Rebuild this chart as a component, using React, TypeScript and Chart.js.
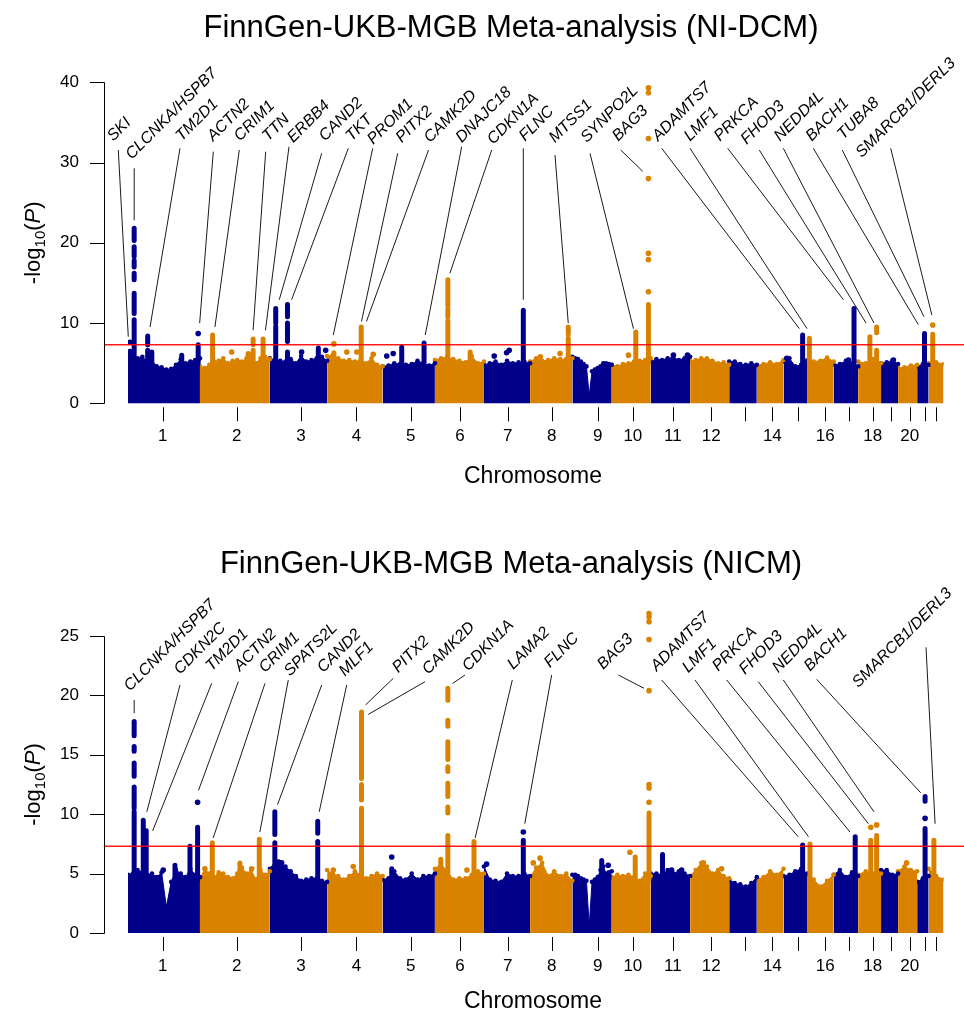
import React, { useEffect, useRef } from 'react';
import { Chart, registerables } from 'chart.js';

Chart.register(...registerables);

// ---------- genome layout (plotted span of each autosome, Mb) ----------
const CHROM_SPAN_MB = [245, 238, 195, 189, 178, 167, 157, 144, 134, 133, 134, 133, 94, 91, 80, 91, 83, 78, 58, 65, 39, 51];
// axis tick position inside each chromosome (centre of the SNPs, Mb)
const CHROM_TICK_MB = [118, 125, 106, 100, 96, 85, 81, 74, 86, 72, 75, 72, 54, 53, 49, 62, 51, 50, 35, 40, 26, 26];
const CHROM_TICK_LABELS = ['1', '2', '3', '4', '5', '6', '7', '8', '9', '10', '11', '12', '', '14', '', '16', '', '18', '', '20', '', ''];

const GENOME_WIDE = 7.30103; // -log10(5e-8)

// ---------- NI-DCM meta-analysis ----------
// upper edge of the bulk of SNPs along each chromosome (-log10 P)
const DCM_ENVELOPE = [
  [5.8, 6.0, 5.6, 5.8, 5.2, 5.4, 4.6, 4.5, 4.2, 4.3, 4.8, 5.5, 5.0, 5.2, 5.4, 5.6],
  [4.6, 4.4, 4.8, 5.2, 5.3, 5.6, 5.0, 5.3, 5.4, 5.2, 5.6, 5.5, 5.0, 5.6, 5.8, 5.5],
  [5.6, 5.4, 5.3, 5.2, 5.5, 5.0, 5.9, 5.2, 5.4, 5.6, 5.8, 5.3],
  [5.9, 6.0, 5.6, 5.3, 5.4, 5.2, 5.4, 5.0, 5.6, 4.8, 4.6],
  [4.6, 4.7, 5.0, 4.9, 4.8, 4.9, 5.3, 5.0, 4.7, 5.0],
  [5.4, 5.6, 5.8, 5.5, 5.3, 5.1, 5.9, 5.0, 5.2],
  [4.8, 5.0, 5.2, 4.8, 5.3, 5.0, 5.1, 5.2, 5.0],
  [5.2, 5.6, 5.3, 5.4, 5.6, 5.5, 5.5, 5.6],
  [5.8, 5.6, 5.5, 5.2, 4.9, 4.6, 1.0, 4.0, 4.2, 4.4, 4.6, 5.0, 5.0, 4.9, 4.8],
  [4.8, 4.6, 4.9, 5.0, 5.2, 5.3, 5.4, 5.6],
  [5.2, 5.5, 5.4, 5.6, 5.7, 5.4, 5.6, 5.8],
  [5.3, 5.4, 5.6, 5.6, 5.3, 5.0, 5.1, 4.8],
  [5.2, 5.2, 4.9, 4.8, 5.0, 4.8],
  [4.7, 4.9, 5.1, 4.9, 5.4],
  [5.2, 5.6, 4.6, 4.8, 5.3],
  [5.4, 5.2, 5.3, 5.7, 5.2],
  [4.8, 4.9, 5.3, 5.0, 4.6],
  [5.2, 5.0, 5.5, 5.0],
  [5.0, 5.1, 5.3, 4.9],
  [4.4, 4.5, 4.7, 4.8],
  [4.6, 4.9, 4.8],
  [5.0, 5.1, 4.9],
];
// stacked SNPs at loci: [chromosome, position Mb, from, to]
const DCM_COLUMNS = [
  [1, 7, 5.4, 6.5],
  [1, 21, 4.5, 10.4], [1, 21, 11.2, 13.7], [1, 21, 15.4, 16.2], [1, 21, 17.0, 17.8], [1, 21, 18.3, 19.5], [1, 21, 20.3, 21.8],
  [1, 67, 5.0, 6.6], [1, 67, 7.3, 8.4],
  [1, 81, 5.2, 6.4],
  [1, 183, 5.0, 6.0],
  [1, 239, 5.0, 7.3],
  [2, 43, 4.5, 8.5],
  [2, 164, 5.2, 6.2],
  [2, 181, 5.0, 6.6], [2, 181, 7.3, 8.0],
  [2, 215, 5.0, 8.0],
  [3, 20, 5.0, 9.6], [3, 20, 10.0, 11.8],
  [3, 60, 5.5, 6.4], [3, 60, 7.7, 10.0], [3, 60, 10.8, 12.3],
  [3, 165, 5.2, 6.9],
  [4, 23, 5.0, 6.3],
  [4, 116, 4.8, 9.5],
  [5, 65, 5.0, 7.0],
  [5, 141, 5.0, 7.5],
  [6, 44, 5.0, 10.3], [6, 44, 10.8, 11.8], [6, 44, 12.2, 15.4],
  [6, 120, 5.0, 6.4],
  [7, 134, 5.0, 11.6],
  [8, 130, 5.0, 6.2], [8, 130, 6.6, 8.1], [8, 130, 8.6, 9.5],
  [10, 82, 5.0, 8.9],
  [10, 125, 5.0, 12.3],
  [15, 65, 5.0, 8.5],
  [16, 8, 5.0, 8.1],
  [17, 69, 4.8, 11.8],
  [18, 40, 5.0, 8.3],
  [18, 63, 5.0, 6.6], [18, 63, 8.8, 9.5],
  [21, 25, 5.0, 8.7],
  [22, 14, 5.0, 8.6],
];
// single SNPs: [chromosome, position Mb, -log10 P]
const DCM_DOTS = [
  [1, 7, 7.6], [1, 239, 8.7],
  [2, 108, 6.4],
  [3, 108, 6.4], [3, 190, 6.6],
  [4, 23, 7.4], [4, 67, 6.4], [4, 101, 6.4], [4, 157, 6.1],
  [5, 14, 5.9], [5, 36, 6.2],
  [7, 35, 5.9], [7, 77, 6.3], [7, 86, 6.6],
  [8, 35, 5.8], [8, 102, 6.2],
  [10, 57, 6.0],
  [10, 125, 13.9], [10, 125, 17.9], [10, 125, 18.7], [10, 125, 28.0], [10, 125, 33.0], [10, 125, 38.7], [10, 125, 39.3],
  [11, 77, 6.0], [11, 125, 6.0],
  [15, 11, 5.6],
  [17, 50, 5.4],
  [19, 42, 5.4],
  [22, 14, 9.75],
];
// annotated loci: [gene, chromosome, Mb, -log10 P where the leader ends]
const DCM_GENES = [
  ['SKI', 1, 1, 8.3],
  ['CLCNKA/HSPB7', 1, 21, 22.8],
  ['TM2D1', 1, 75, 9.5],
  ['ACTN2', 1, 244, 10.0],
  ['CRIM1', 2, 51, 9.5],
  ['TTN', 2, 181, 9.1],
  ['ERBB4', 2, 223, 9.1],
  ['CAND2', 3, 32, 12.9],
  ['TKT', 3, 74, 12.9],
  ['PROM1', 4, 21, 8.5],
  ['PITX2', 4, 117, 10.2],
  ['CAMK2D', 4, 134, 10.2],
  ['DNAJC18', 5, 145, 8.5],
  ['CDKN1A', 6, 51, 16.2],
  ['FLNC', 7, 134, 12.9],
  ['MTSS1', 8, 130, 10.0],
  ['SYNPO2L', 10, 74, 9.3],
  ['BAG3', 10, 106, 28.9],
  ['ADAMTS7', 15, 54, 9.3],
  ['LMF1', 16, 0, 9.3],
  ['PRKCA', 17, 33, 12.9],
  ['FHOD3', 18, 27, 10.0],
  ['NEDD4L', 18, 54, 10.0],
  ['BACH1', 21, 4, 9.8],
  ['TUBA8', 21, 23, 10.8],
  ['SMARCB1/DERL3', 22, 11, 11.0],
];
const DCM_Y_TICKS = [0, 10, 20, 30, 40];

// ---------- NICM meta-analysis ----------
const NICM_ENVELOPE = [
  [4.9, 5.0, 5.3, 5.1, 4.9, 5.0, 4.7, 5.1, 2.2, 4.3, 5.3, 5.0, 4.7, 5.4, 4.9, 4.7],
  [4.5, 5.4, 5.0, 4.7, 5.1, 5.0, 4.7, 4.6, 5.0, 5.5, 5.0, 5.3, 4.5, 5.3, 4.9, 5.2],
  [5.4, 6.0, 5.8, 5.6, 5.2, 4.8, 4.4, 4.5, 4.6, 4.6, 4.4, 4.3],
  [5.3, 5.0, 4.8, 4.5, 4.8, 5.2, 4.9, 4.6, 4.8, 5.0, 4.8],
  [4.5, 4.6, 5.2, 4.6, 4.5, 5.0, 4.5, 4.8, 4.8, 5.0],
  [5.4, 5.8, 5.2, 4.5, 4.6, 4.6, 4.9, 5.2, 5.0],
  [5.6, 4.5, 4.4, 4.3, 5.0, 4.8, 4.8, 5.0, 4.8],
  [4.7, 5.5, 5.9, 4.8, 5.2, 4.8, 5.0, 4.4],
  [4.9, 4.9, 4.8, 4.6, 4.5, 4.4, 0.6, 4.3, 4.5, 4.7, 5.3, 5.6, 5.0, 5.1, 5.2],
  [4.7, 4.9, 4.8, 4.9, 4.7, 4.4, 5.0, 4.8],
  [5.0, 5.0, 4.9, 5.3, 5.0, 5.2, 5.0, 4.8],
  [4.8, 5.3, 5.9, 5.6, 5.0, 5.3, 4.8, 4.6],
  [4.5, 4.2, 4.1, 3.9, 4.2, 4.7],
  [4.5, 4.7, 5.2, 4.9, 5.4],
  [4.8, 4.9, 5.2, 5.4, 5.0],
  [4.9, 4.5, 3.9, 4.4, 4.9],
  [4.9, 5.3, 4.7, 5.1, 4.8],
  [4.9, 5.2, 5.0, 5.0],
  [5.3, 5.3, 4.9, 5.0],
  [5.2, 5.6, 5.3, 5.2],
  [4.3, 4.6, 4.8],
  [5.4, 4.8, 4.5],
];
const NICM_COLUMNS = [
  [1, 21, 4.5, 10.2], [1, 21, 10.5, 12.3], [1, 21, 13.2, 14.3], [1, 21, 15.3, 15.7], [1, 21, 16.6, 17.8],
  [1, 52, 4.5, 9.5],
  [1, 62, 4.5, 8.6],
  [1, 160, 4.5, 5.7],
  [1, 211, 4.5, 7.3],
  [1, 237, 4.5, 8.9],
  [2, 42, 4.5, 7.6],
  [2, 136, 4.5, 5.9],
  [2, 202, 4.5, 7.9],
  [3, 17, 4.5, 7.6], [3, 17, 8.3, 10.2],
  [3, 30, 4.5, 6.0],
  [3, 163, 4.5, 7.7], [3, 163, 8.4, 9.4],
  [4, 117, 4.5, 10.5], [4, 117, 11.2, 12.5], [4, 117, 13.0, 18.6],
  [5, 31, 4.5, 5.4],
  [6, 20, 4.5, 6.2],
  [6, 44, 4.5, 8.2], [6, 44, 10.1, 10.6], [6, 44, 11.5, 12.6], [6, 44, 13.6, 14.0], [6, 44, 14.6, 16.1], [6, 44, 17.4, 17.9], [6, 44, 19.6, 20.6],
  [6, 133, 4.5, 7.7],
  [7, 134, 4.5, 7.8],
  [9, 100, 4.5, 6.1],
  [10, 80, 4.5, 6.4],
  [10, 127, 4.5, 10.1],
  [11, 40, 4.5, 6.6],
  [15, 65, 4.5, 7.4],
  [16, 10, 4.5, 7.5],
  [17, 73, 4.5, 8.1],
  [18, 43, 4.5, 7.8],
  [18, 63, 4.5, 8.2],
  [21, 27, 4.5, 8.8], [21, 27, 11.1, 11.5],
  [22, 18, 4.5, 7.8],
];
const NICM_DOTS = [
  [1, 120, 5.3], [1, 237, 11.0],
  [2, 17, 5.4], [2, 176, 5.4],
  [3, 40, 5.9],
  [4, 21, 5.3], [4, 89, 5.6],
  [5, 31, 6.4],
  [6, 109, 5.3],
  [7, 9, 5.8], [7, 134, 8.5],
  [8, 11, 5.9], [8, 34, 6.3],
  [9, 122, 5.7],
  [10, 62, 6.8],
  [10, 127, 11.0], [10, 127, 12.2], [10, 127, 12.5], [10, 127, 20.4], [10, 127, 24.7], [10, 127, 26.2], [10, 127, 26.6], [10, 127, 26.9],
  [11, 71, 5.3], [11, 105, 5.3],
  [12, 45, 5.9], [12, 107, 5.4],
  [18, 43, 8.9], [18, 63, 9.1],
  [20, 29, 5.9],
  [21, 27, 9.65],
];
const NICM_GENES = [
  ['CLCNKA/HSPB7', 1, 21, 18.5],
  ['CDKN2C', 1, 64, 10.2],
  ['TM2D1', 1, 84, 8.6],
  ['ACTN2', 1, 240, 12.0],
  ['CRIM1', 2, 45, 8.0],
  ['SPATS2L', 2, 204, 8.5],
  ['CAND2', 3, 26, 10.8],
  ['MLF1', 3, 168, 10.2],
  ['PITX2', 4, 131, 19.2],
  ['CAMK2D', 4, 140, 18.4],
  ['CDKN1A', 6, 60, 21.0],
  ['LAMA2', 6, 137, 8.0],
  ['FLNC', 7, 139, 9.2],
  ['BAG3', 10, 110, 20.6],
  ['ADAMTS7', 15, 50, 8.1],
  ['LMF1', 16, 5, 8.1],
  ['PRKCA', 17, 55, 8.5],
  ['FHOD3', 18, 35, 9.2],
  ['NEDD4L', 18, 54, 10.2],
  ['BACH1', 21, 12, 11.8],
  ['SMARCB1/DERL3', 22, 22, 9.2],
];
const NICM_Y_TICKS = [0, 5, 10, 15, 20, 25];

// ---------- page layout ----------
// where each gene label sits on the page: [text x, text y, leader start x, leader start y]
const DCM_LABEL_LAYOUT = [
  [113.3, 141.7, 118.3, 150], [131.7, 160, 134.2, 168.3], [181.7, 141.7, 180, 148.3], [213.3, 141.7, 213.3, 151.7],
  [240, 141.7, 239.3, 150], [268.3, 141.7, 265.7, 151.7], [293.3, 143.3, 289, 146.7], [325, 141.7, 321.7, 153.3],
  [351.7, 141.7, 348.3, 148.3], [373.3, 145, 372.7, 148.3], [401.7, 143.3, 397.7, 153.3], [430, 143.3, 428.5, 150],
  [461.7, 143.3, 461.7, 146.7], [493.3, 145, 491.7, 150], [525, 141.7, 523.3, 148.3], [555, 143.3, 555, 155],
  [586.7, 143.3, 590, 153.3], [618.3, 141.7, 620.7, 150], [658.3, 141.7, 661.7, 148.3], [690, 141.7, 690, 148.3],
  [720, 141.7, 727.7, 148.3], [746.7, 145, 759.3, 150], [780, 141.7, 783.3, 148.3], [811.7, 141.7, 813.3, 148.3],
  [843.3, 140, 842.3, 150], [861.7, 158.3, 890.7, 148.3],
];
const NICM_LABEL_LAYOUT = [
  [130, 691.7, 134.2, 700], [180, 675, 180, 685], [211.7, 671.7, 211.7, 683.3], [240, 671.7, 238.3, 681.7],
  [265, 673.3, 265, 683.3], [290, 676.7, 288.3, 680], [323.3, 673.3, 321.7, 685], [345, 676.7, 346.7, 685],
  [398.3, 673.3, 393.3, 678.3], [428.3, 675, 425, 681.7], [468.3, 671.7, 465, 675], [513.3, 670, 512.3, 680],
  [550, 668.3, 551.7, 675], [603.3, 670, 618.3, 675], [656.7, 671.7, 661.7, 680], [688.3, 673.3, 695, 680],
  [718.3, 671.7, 726.7, 680], [745, 675, 758.3, 681.7], [778.3, 673.3, 783.3, 680], [810, 671.7, 816.7, 679.3],
  [858.3, 688.3, 926, 647.3],
];

const PANELS = [
  {
    title: 'FinnGen-UKB-MGB Meta-analysis (NI-DCM)',
    envelope: DCM_ENVELOPE, columns: DCM_COLUMNS, dots: DCM_DOTS, genes: DCM_GENES,
    labelLayout: DCM_LABEL_LAYOUT, yTicks: DCM_Y_TICKS,
    pageTop: 0, height: 507, zeroPx: 403.3, unitPx: 8.025, areaTop: 60, areaBottom: 410,
    titleBaseline: 37, tickLabelGap: 33.5, axisTitleGap: 73.5,
  },
  {
    title: 'FinnGen-UKB-MGB Meta-analysis (NICM)',
    envelope: NICM_ENVELOPE, columns: NICM_COLUMNS, dots: NICM_DOTS, genes: NICM_GENES,
    labelLayout: NICM_LABEL_LAYOUT, yTicks: NICM_Y_TICKS,
    pageTop: 507, height: 508, zeroPx: 426, unitPx: 11.88, areaTop: 100, areaBottom: 432,
    titleBaseline: 66, tickLabelGap: 33.7, axisTitleGap: 68.7,
  },
];

const PAGE_W = 964;
const PLOT_LEFT = 128;
const PLOT_RIGHT = 943.6;
const AXIS_X = 104.5;
const BLUE = '#00008B';
const ORANGE = '#D98200';
const FONT = '"Liberation Sans", Arial, Helvetica, sans-serif';

const CHROM_START: number[] = [];
let acc = 0;
for (const s of CHROM_SPAN_MB) { CHROM_START.push(acc); acc += s; }
const GENOME_MB = acc;

const colorOf = (chr: number) => (chr % 2 === 1 ? BLUE : ORANGE);
const gx = (chr: number, mb: number) => CHROM_START[chr - 1] + mb;

function buildDatasets(p: any) {
  const sets: any[] = [];
  p.envelope.forEach((vals: number[], i: number) => {
    const n = vals.length;
    const c = colorOf(i + 1);
    sets.push({
      data: vals.map((v, j) => ({ x: CHROM_START[i] + (CHROM_SPAN_MB[i] * j) / (n - 1), y: v })),
      fill: 'origin', backgroundColor: c, borderColor: c, borderWidth: 1,
      pointRadius: 2.3, pointBackgroundColor: c, pointBorderWidth: 0, tension: 0, order: 3,
    });
  });
  [BLUE, ORANGE].forEach((c) => {
    const runs: any[] = [];
    p.columns.filter((r: number[]) => colorOf(r[0]) === c).forEach((r: number[]) => {
      const x = gx(r[0], r[1]);
      runs.push({ x, y: r[2] }, { x, y: r[3] }, { x, y: null });
    });
    sets.push({
      data: runs, borderColor: c, borderWidth: 5, borderCapStyle: 'round', pointRadius: 0,
      spanGaps: false, fill: false, tension: 0, order: 2,
    });
    sets.push({
      data: p.dots.filter((d: number[]) => colorOf(d[0]) === c).map((d: number[]) => ({ x: gx(d[0], d[1]), y: d[2] })),
      showLine: false, pointRadius: 2.8, pointBackgroundColor: c, pointBorderWidth: 0, order: 1,
    });
  });
  return sets;
}

function overlayPlugin(p: any) {
  return {
    id: 'manhattanOverlay',
    afterDatasetsDraw(chart: any) {
      const { ctx, scales } = chart;
      const yy = scales.y.getPixelForValue(GENOME_WIDE);
      ctx.save();
      ctx.strokeStyle = 'rgba(255,0,0,0.9)';
      ctx.lineWidth = 1.5;
      ctx.beginPath();
      ctx.moveTo(AXIS_X, yy);
      ctx.lineTo(PAGE_W, yy);
      ctx.stroke();
      ctx.restore();
    },
    afterDraw(chart: any) {
      const { ctx, scales } = chart;
      const xs = scales.x;
      const ys = scales.y;
      const zero = ys.getPixelForValue(0);
      const topTick = ys.getPixelForValue(p.yTicks[p.yTicks.length - 1]);
      ctx.save();
      ctx.fillStyle = '#000';
      ctx.strokeStyle = '#000';
      ctx.lineWidth = 1;

      // title
      ctx.font = `31px ${FONT}`;
      ctx.textAlign = 'center';
      ctx.textBaseline = 'alphabetic';
      ctx.fillText(p.title, 511, p.titleBaseline);

      // y axis
      ctx.beginPath();
      ctx.moveTo(AXIS_X, Math.round(zero) + 0.5);
      ctx.lineTo(AXIS_X, Math.round(topTick) + 0.5);
      p.yTicks.forEach((t: number) => {
        const py = Math.round(ys.getPixelForValue(t)) + 0.5;
        ctx.moveTo(90, py);
        ctx.lineTo(AXIS_X, py);
      });
      ctx.stroke();
      ctx.font = `17px ${FONT}`;
      ctx.textAlign = 'right';
      ctx.textBaseline = 'middle';
      p.yTicks.forEach((t: number) => ctx.fillText(String(t), 79, ys.getPixelForValue(t)));

      // x axis ticks
      ctx.beginPath();
      CHROM_TICK_MB.forEach((mb, i) => {
        const px = Math.round(xs.getPixelForValue(CHROM_START[i] + mb)) + 0.5;
        ctx.moveTo(px, zero + 4);
        ctx.lineTo(px, zero + 18);
      });
      ctx.stroke();
      ctx.textAlign = 'center';
      CHROM_TICK_LABELS.forEach((lab, i) => {
        if (!lab) return;
        ctx.fillText(lab, xs.getPixelForValue(CHROM_START[i] + CHROM_TICK_MB[i]), zero + p.tickLabelGap);
      });
      ctx.font = `23px ${FONT}`;
      ctx.fillText('Chromosome', 533, zero + p.axisTitleGap);

      // y axis title: -log10(P)
      const midY = (zero + topTick) / 2;
      ctx.save();
      ctx.translate(32, midY);
      ctx.rotate(-Math.PI / 2);
      ctx.textAlign = 'left';
      ctx.textBaseline = 'alphabetic';
      const parts = [
        { t: '-log', f: `22px ${FONT}`, dy: 0 },
        { t: '10', f: `15px ${FONT}`, dy: 5 },
        { t: '(', f: `22px ${FONT}`, dy: 0 },
        { t: 'P', f: `italic 22px ${FONT}`, dy: 0 },
        { t: ')', f: `22px ${FONT}`, dy: 0 },
      ];
      let total = 0;
      parts.forEach((q) => { ctx.font = q.f; total += ctx.measureText(q.t).width; });
      let cx = -total / 2;
      parts.forEach((q) => {
        ctx.font = q.f;
        ctx.fillText(q.t, cx, 8 + q.dy);
        cx += ctx.measureText(q.t).width;
      });
      ctx.restore();

      // gene labels with leader lines
      ctx.lineWidth = 1;
      ctx.strokeStyle = '#1a1a1a';
      ctx.font = `italic 16px ${FONT}`;
      ctx.textAlign = 'left';
      ctx.textBaseline = 'alphabetic';
      p.genes.forEach((g: any[], k: number) => {
        const [tx, ty, lx, ly] = p.labelLayout[k];
        const ex = xs.getPixelForValue(gx(g[1], g[2]));
        const ey = ys.getPixelForValue(g[3]);
        ctx.beginPath();
        ctx.moveTo(lx, ly - p.pageTop);
        ctx.lineTo(ex, ey);
        ctx.stroke();
        ctx.save();
        ctx.translate(tx, ty - p.pageTop);
        ctx.rotate(-Math.PI / 4);
        ctx.fillText(g[0], 0, 0);
        ctx.restore();
      });
      ctx.restore();
    },
  };
}

function buildChart(canvas: HTMLCanvasElement, p: any) {
  const yMin = -(p.areaBottom - p.zeroPx) / p.unitPx;
  const yMax = (p.zeroPx - p.areaTop) / p.unitPx;
  return new Chart(canvas, {
    type: 'line',
    data: { datasets: buildDatasets(p) },
    options: {
      responsive: false,
      maintainAspectRatio: false,
      animation: false,
      devicePixelRatio: 1,
      events: [],
      layout: { padding: { left: PLOT_LEFT, right: PAGE_W - PLOT_RIGHT, top: p.areaTop, bottom: p.height - p.areaBottom } },
      scales: {
        x: { type: 'linear', min: 0, max: GENOME_MB, display: false },
        y: { type: 'linear', min: yMin, max: yMax, display: false },
      },
      plugins: { legend: { display: false }, tooltip: { enabled: false }, title: { display: false } },
    },
    plugins: [overlayPlugin(p)],
  } as any);
}

export default function App() {
  const topRef = useRef<HTMLCanvasElement>(null);
  const bottomRef = useRef<HTMLCanvasElement>(null);

  useEffect(() => {
    const charts = [buildChart(topRef.current!, PANELS[0]), buildChart(bottomRef.current!, PANELS[1])];
    return () => charts.forEach((c) => c.destroy());
  }, []);

  return (
    <div style={{ position: 'absolute', left: 0, top: 0, width: PAGE_W, height: 1015, background: '#fff' }}>
      <canvas ref={topRef} width={PAGE_W} height={PANELS[0].height}
        style={{ position: 'absolute', left: 0, top: PANELS[0].pageTop, width: PAGE_W, height: PANELS[0].height }} />
      <canvas ref={bottomRef} width={PAGE_W} height={PANELS[1].height}
        style={{ position: 'absolute', left: 0, top: PANELS[1].pageTop, width: PAGE_W, height: PANELS[1].height }} />
    </div>
  );
}
